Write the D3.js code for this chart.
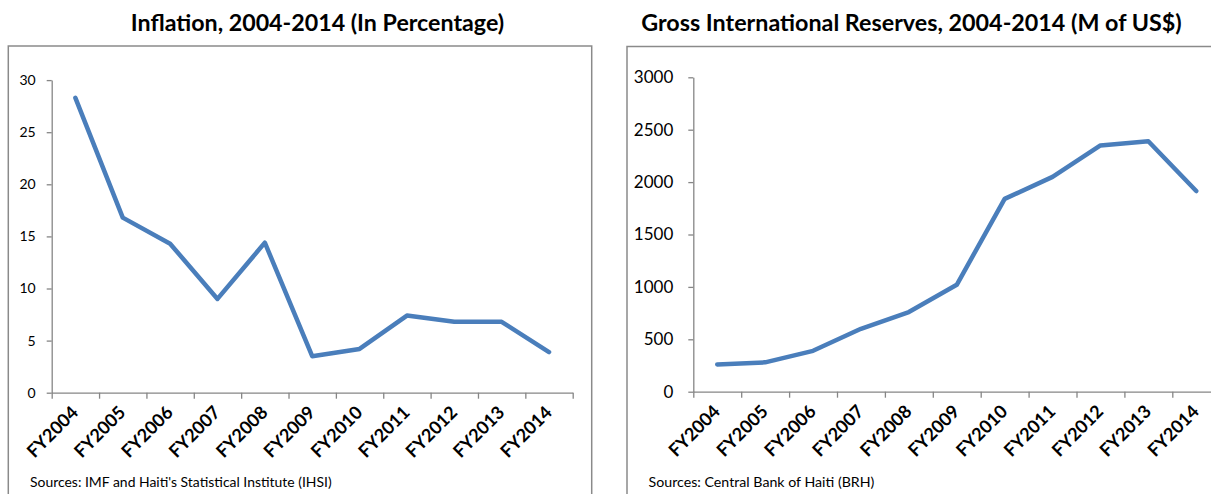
<!DOCTYPE html>
<html><head><meta charset="utf-8">
<script src="https://cdn.jsdelivr.net/npm/d3@7"></script>
<style>
body{margin:0;background:#fff}
svg{display:block}
text{font-family:Lato,'Open Sans',sans-serif;fill:#000}
</style>
</head><body>
<svg id="c" width="1211" height="494"></svg>
<script>
const categories = ["FY2004","FY2005","FY2006","FY2007","FY2008","FY2009","FY2010","FY2011","FY2012","FY2013","FY2014"];
const inflation = [28.3, 16.8, 14.3, 9.0, 14.4, 3.5, 4.2, 7.4, 6.8, 6.8, 3.9];
const reserves = [260, 280, 390, 600, 760, 1020, 1840, 2050, 2350, 2390, 1915];
const inflationTicks = [0, 5, 10, 15, 20, 25, 30];
const reserveTicks = [0, 500, 1000, 1500, 2000, 2500, 3000];
const titles = ["Inflation, 2004-2014 (In Percentage)", "Gross International Reserves, 2004-2014 (M of US$)"];
const sources = ["Sources: IMF and Haiti's Statistical Institute (IHSI)", "Sources: Central Bank of Haiti (BRH)"];

const svg = d3.select("#c");
const AXIS = "#868686", BORDER = "#8a8a8a", LINE = "#4a7ebb";

function fitText(sel, target){
  const w = sel.node().getComputedTextLength();
  const fs = parseFloat(sel.attr("font-size"));
  sel.attr("font-size", fs * target / w);
}

const panels = [
  {values: inflation, ticks: inflationTicks, title: titles[0], source: sources[0],
   box: {x: 8.3, y: 46, w: 583.4}, x0: 51.7, x1: 572.7, yb: 392.7, yt: 80.1, dmax: 30,
   titleCx: 317.5, titleW: 373.6, srcX: 30, srcW: 302, yFont: 14, yPad: 11},
  {values: reserves, ticks: reserveTicks, title: titles[1], source: sources[1],
   box: {x: 627, y: 46.5, w: 700}, x0: 693.3, x1: 1220.2, yb: 391.7, yt: 77.3, dmax: 3000,
   titleCx: 911.5, titleW: 541, srcX: 648.6, srcW: 226, yFont: 17, yPad: 15}
];

panels.forEach(p => {
  svg.append("rect").attr("x", p.box.x).attr("y", p.box.y).attr("width", p.box.w).attr("height", 600)
    .attr("fill", "none").attr("stroke", BORDER).attr("stroke-width", 1.5);
  const t = svg.append("text").attr("x", p.titleCx).attr("y", 31).attr("text-anchor", "middle")
    .attr("font-weight", "bold").attr("font-size", 20).text(p.title);
  fitText(t, p.titleW);
  const s = svg.append("text").attr("x", p.srcX).attr("y", 487).attr("font-size", 13).text(p.source);
  fitText(s, p.srcW);

  const y = d3.scaleLinear().domain([0, p.dmax]).range([p.yb, p.yt]);
  const band = d3.scaleBand().domain(categories).range([p.x0, p.x1]).padding(0);
  const xb = d3.scaleLinear().domain([0, categories.length]).range([p.x0, p.x1]);

  const ga = svg.append("g").attr("transform", `translate(${p.x0},0)`)
    .call(d3.axisLeft(y).tickValues(p.ticks).tickSize(5).tickSizeOuter(0).tickPadding(p.yPad).tickFormat(d3.format("d")));
  ga.selectAll("path,line").attr("stroke", AXIS).attr("stroke-width", 1.3);
  ga.selectAll("text").attr("font-size", p.yFont).attr("fill", "#000").style("font-family", "Lato");

  const gx = svg.append("g").attr("transform", `translate(0,${p.yb})`)
    .call(d3.axisBottom(xb).tickValues(d3.range(categories.length + 1)).tickSize(6).tickSizeOuter(0).tickFormat(""));
  gx.selectAll("path,line").attr("stroke", AXIS).attr("stroke-width", 1.3);

  svg.append("g").selectAll("text").data(categories).join("text")
    .attr("transform", d => `translate(${band(d) + band.bandwidth() / 2 + 4},${p.yb + 21}) rotate(-45)`)
    .attr("text-anchor", "end").attr("font-weight", "bold").attr("font-size", 18).text(d => d);

  const line = d3.line().x((d, i) => band(categories[i]) + band.bandwidth() / 2).y(d => y(d));
  svg.append("path").datum(p.values).attr("d", line).attr("fill", "none")
    .attr("stroke", LINE).attr("stroke-width", 4.5).attr("stroke-linejoin", "round").attr("stroke-linecap", "round");
});
</script>
</body></html>
